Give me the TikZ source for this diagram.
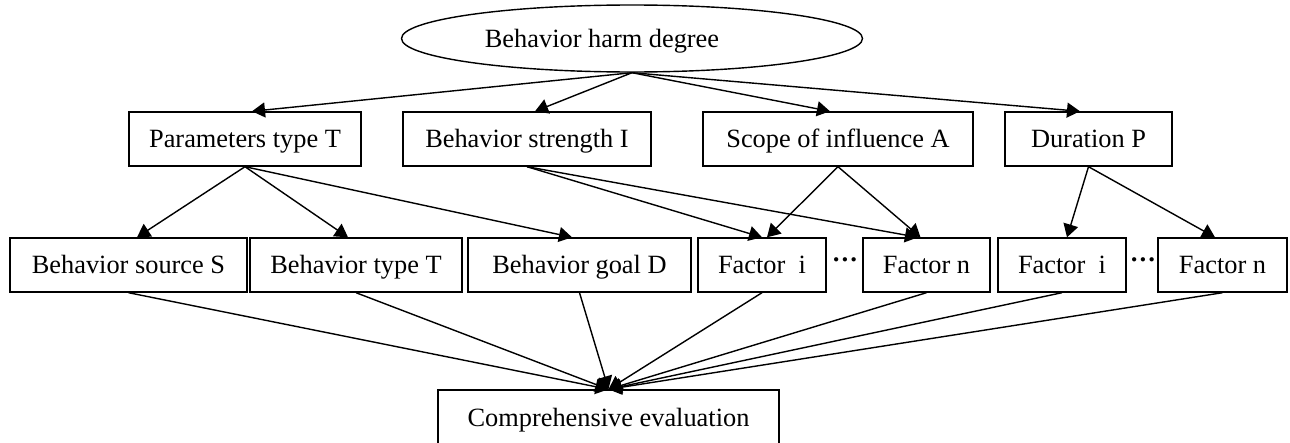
\documentclass[tikz,border=0pt]{standalone}
\usepackage{fontspec}
\setmainfont{Liberation Serif}
\usepackage{tikz}
\usetikzlibrary{arrows.meta, shapes.geometric}
\tikzset{myBox/.style={draw, line width=0.8pt, minimum height=1.08cm, inner sep=0pt, text height=13pt, text depth=3pt, font=\fontsize{15}{18}\selectfont}}
\tikzset{myArrow/.style={line width=0.8pt, -{Triangle[length=0.26cm, width=0.3cm]}}}
\tikzset{myDots/.style={inner sep=0pt, font=\fontsize{15}{18}\selectfont\bfseries}}
\newcommand{\rowA}{-2.78}
\newcommand{\rowB}{-5.30}

\begin{document}
\begin{tikzpicture}[]
	\useasboundingbox (0,0) rectangle (25.8,-8.86);
	% top
	\node[myBox, ellipse, minimum width=9.22cm, minimum height=1.34cm](harm) at (12.64,-0.77){Behavior harm degree\hspace*{1.2cm}};

	% second row
	\node[myBox, minimum width=4.64cm](ptype) at (4.90,\rowA){Parameters type T};
	\node[myBox, minimum width=4.96cm](bstr) at (10.54,\rowA){Behavior strength I};
	\node[myBox, minimum width=5.40cm](scope) at (16.76,\rowA){Scope of influence A};
	\node[myBox, minimum width=3.34cm](dur) at (21.77,\rowA){Duration P};

	% third row
	\node[myBox, minimum width=4.74cm](bsrc) at (2.57,\rowB){Behavior source S};
	\node[myBox, minimum width=4.24cm](btype) at (7.12,\rowB){Behavior type T};
	\node[myBox, minimum width=4.46cm](bgoal) at (11.59,\rowB){Behavior goal D};
	\node[myBox, minimum width=2.56cm](facI) at (15.24,\rowB){Factor~ i};
	\node[myDots](dotsA) at (16.90,-5.26){\textperiodcentered\textperiodcentered\textperiodcentered};
	\node[myBox, minimum width=2.54cm](facN) at (18.53,\rowB){Factor n};
	\node[myBox, minimum width=2.56cm](facII) at (21.24,\rowB){Factor~ i};
	\node[myDots](dotsB) at (22.86,-5.26){\textperiodcentered\textperiodcentered\textperiodcentered};
	\node[myBox, minimum width=2.58cm](facNN) at (24.45,\rowB){Factor n};

	% bottom
	\node[myBox, minimum width=6.82cm, minimum height=1.12cm](eval) at (12.17,-8.36){Comprehensive evaluation};

	\draw[myArrow](harm.south) -- ([xshift=0.14cm]ptype.north);
	\draw[myArrow](harm.south) -- ([xshift=0.16cm]bstr.north);
	\draw[myArrow](harm.south) -- ([xshift=-0.16cm]scope.north);
	\draw[myArrow](harm.south) -- ([xshift=-0.17cm]dur.north);

	\draw[myArrow](ptype.south) -- ([xshift=0.17cm]bsrc.north);
	\draw[myArrow](ptype.south) -- ([xshift=-0.16cm]btype.north);
	\draw[myArrow](ptype.south) -- ([xshift=-0.15cm]bgoal.north);
	\draw[myArrow](bstr.south) -- (facI.north);
	\draw[myArrow](bstr.south) -- ([xshift=-0.17cm]facN.north);
	\draw[myArrow](scope.south) -- ([xshift=0.1cm]facI.north);
	\draw[myArrow](scope.south) -- ([xshift=-0.12cm]facN.north);
	\draw[myArrow](dur.south) -- ([xshift=0.1cm]facII.north);
	\draw[myArrow](dur.south) -- ([xshift=-0.15cm]facNN.north);

	\foreach \src in {bsrc, btype, bgoal, facI, facN, facII, facNN}
		\draw[myArrow](\src.south) -- (eval.north);
\end{tikzpicture}
\end{document}
